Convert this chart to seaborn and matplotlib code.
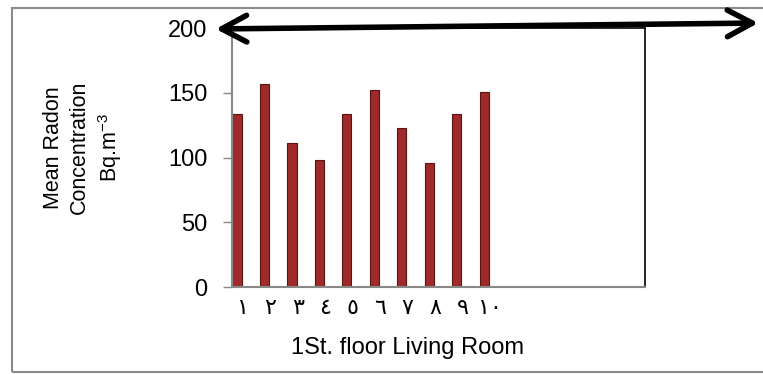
import numpy as np
import pandas as pd
import seaborn as sns
import matplotlib.pyplot as plt
from matplotlib.patches import Rectangle, FancyArrowPatch

# data
rooms = ["١", "٢", "٣", "٤", "٥", "٦", "٧", "٨", "٩", "١٠"]
radon = [134, 157, 111, 98, 134, 152, 123, 96, 134, 151]
y_ticks = [0, 50, 100, 150, 200]

df = pd.DataFrame({"room": rooms, "radon": radon})

sns.set_theme(style="white")
plt.rcParams["font.family"] = ["Liberation Sans", "DejaVu Sans"]
plt.rcParams["text.color"] = "black"
plt.rcParams["axes.labelcolor"] = "black"
plt.rcParams["xtick.color"] = "black"
plt.rcParams["ytick.color"] = "black"

fig = plt.figure(figsize=(7.63, 3.74), dpi=100)
ax = fig.add_axes([0.304, 0.2326, 0.541, 0.692])

sns.barplot(data=df, x="room", y="radon", color="#9e2a2a", width=0.34,
            edgecolor="#5e1212", linewidth=0.8, saturation=1, ax=ax)

ax.set_xlim(-0.18, 14.84)
ax.set_ylim(0, 200)
ax.set_yticks(y_ticks)
ax.set_yticklabels([str(v) for v in y_ticks], fontsize=17)
ax.set_xticks(np.arange(len(rooms)) + 0.22)
ax.set_xticklabels(rooms, fontsize=16, family=["DejaVu Sans"])
ax.tick_params(axis="y", length=6.5, width=1, color="#888888", pad=11, left=True)
ax.tick_params(axis="x", length=0, pad=8)

ax.set_xlabel("1St. floor Living Room", fontsize=17)
ax.xaxis.set_label_coords(0.426, -0.195)
ax.set_ylabel("Mean Radon\nConcentration\nBq.m$^{\\mathregular{-3}}$", fontsize=15.5,
              linespacing=1.3)
ax.yaxis.set_label_coords(-0.262, 0.54)

for side in ["left", "bottom"]:
    ax.spines[side].set_color("#888888")
    ax.spines[side].set_linewidth(1.5)
for side in ["top", "right"]:
    ax.spines[side].set_color("black")
    ax.spines[side].set_linewidth(1.2)

# outer frame (open on the right, like the source)
fig.patches.append(Rectangle((12 / 763, 1 - 372 / 374), 1.0, (372 - 8) / 374,
                             transform=fig.transFigure, fill=False,
                             edgecolor="#8a8a8a", linewidth=1.5))

# double headed arrow across the top
arrow = FancyArrowPatch((213 / 763, 1 - 29 / 374), (761 / 763, 1 - 23 / 374),
                        transform=fig.transFigure,
                        arrowstyle="<->,head_length=1.5,head_width=0.8",
                        color="black", linewidth=4, capstyle="round",
                        joinstyle="round", mutation_scale=12)
fig.patches.append(arrow)

fig.savefig("out.png", dpi=100)
